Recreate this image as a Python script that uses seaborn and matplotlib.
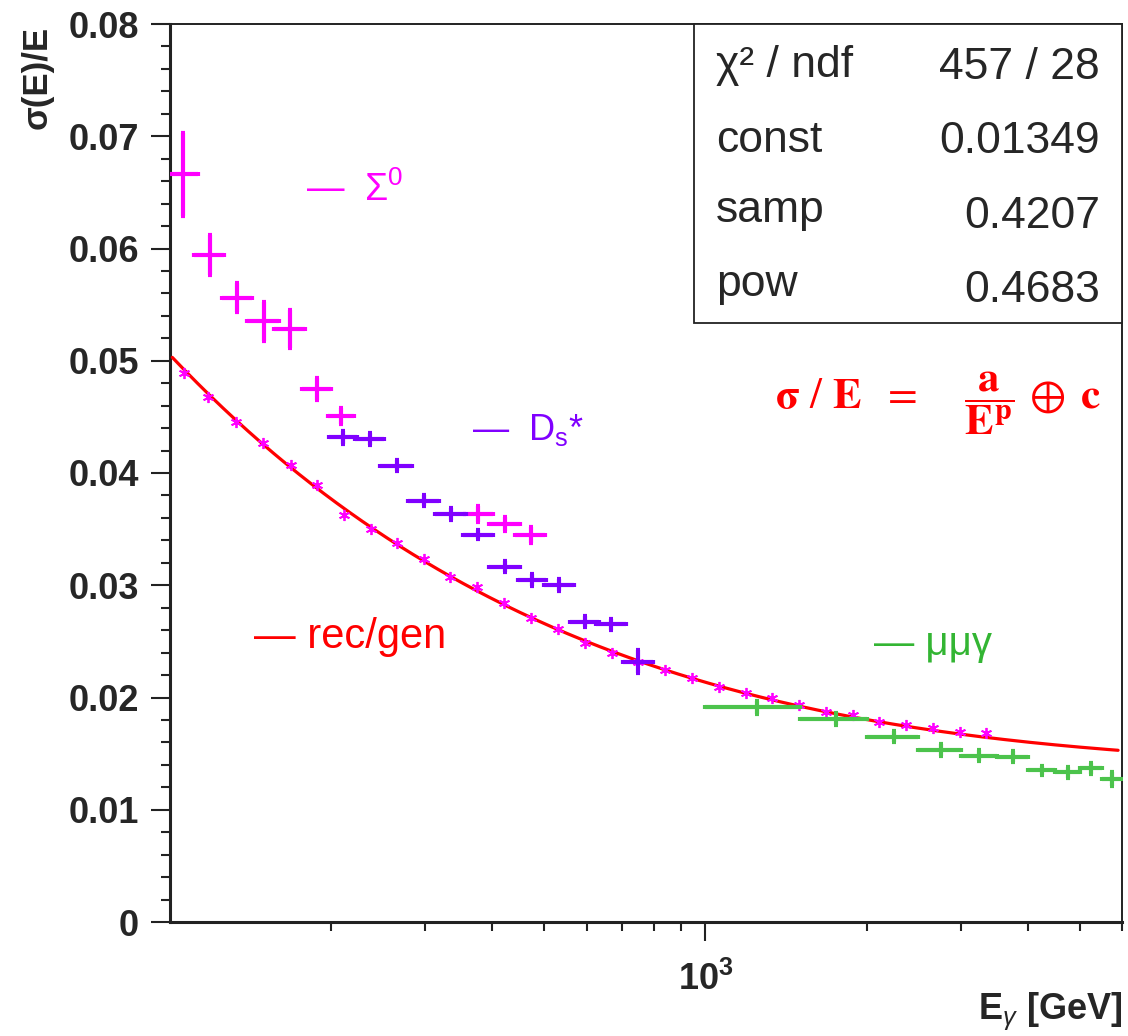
import numpy as np
import matplotlib
matplotlib.use('Agg')
import matplotlib.pyplot as plt
from matplotlib.ticker import FixedLocator, LogLocator, MultipleLocator, NullFormatter, FuncFormatter
from matplotlib.patches import Rectangle
import seaborn as sns

# rec/gen points (small stars along the fit)
recgen_e = [106, 118, 133, 149, 168, 188, 211, 237, 266, 298, 334, 375, 421, 473, 531,
            596, 668, 750, 841, 944, 1059, 1189, 1334, 1496, 1679, 1884, 2113, 2371, 2661,
            2985, 3350]
recgen_res = [0.04893, 0.04680, 0.04457, 0.04265, 0.04071, 0.03893, 0.03626, 0.03501,
              0.03374, 0.03231, 0.03076, 0.02987, 0.02839, 0.02711, 0.02610, 0.02483,
              0.02394, 0.02316, 0.02245, 0.02171, 0.02091, 0.02037, 0.01993, 0.01933,
              0.01870, 0.01844, 0.01784, 0.01755, 0.01726, 0.01695, 0.01681]

# Sigma0 sample
sigma0_e = [105.6, 118.6, 133.4, 149.5, 167.7, 188.1, 208.7, 376.5, 422.3, 471.6]
sigma0_eerr = [7, 7.6, 8.6, 10, 11, 12, 11.5, 24, 28, 31]
sigma0_res = [0.0666, 0.0594, 0.0556, 0.0535, 0.0528, 0.0475, 0.0451, 0.03635, 0.03546, 0.03448]
sigma0_err = [0.0037, 0.0018, 0.0013, 0.0017, 0.0017, 0.0010, 0.0007, 0.0007, 0.0006, 0.0007]

# Ds* sample
ds_e = [210.8, 236.4, 265.1, 298.5, 334.9, 376.5, 422.3, 474.8, 533.2, 595.6, 667.7, 748.7]
ds_eerr = [13, 15, 18, 20, 22, 24, 28, 29, 34, 36, 42, 48]
ds_res = [0.04318, 0.04303, 0.04065, 0.03753, 0.03635, 0.03448, 0.03165, 0.03047,
          0.03002, 0.02675, 0.02651, 0.02319]
ds_err = [0.0006, 0.0005, 0.0005, 0.0005, 0.0005, 0.0004, 0.0005, 0.0005, 0.0005,
          0.0005, 0.0005, 0.0010]

# mu mu gamma sample
mmg_e = [1250, 1750, 2250, 2750, 3250, 3750, 4250, 4750, 5250, 5750]
mmg_eerr = [250, 250, 250, 250, 250, 250, 250, 250, 250, 250]
mmg_res = [0.01913, 0.01808, 0.01651, 0.01532, 0.01482, 0.01473, 0.01354, 0.01333,
           0.01369, 0.01274]
mmg_err = [0.00056, 0.0005, 0.0005, 0.0005, 0.0005, 0.0005, 0.0004, 0.0005, 0.0005, 0.0006]

# fit result shown in the stats box
fit_chi2 = 457
fit_ndf = 28
fit_const = 0.01349
fit_samp = 0.4207
fit_pow = 0.4683

MAGENTA = '#ff00ff'
PURPLE = '#8000ff'
GREEN = '#4cc34c'
RED = '#ff0000'

sns.set_style('white')
plt.rcParams['font.family'] = ['Liberation Sans', 'DejaVu Sans']
plt.rcParams['mathtext.fontset'] = 'custom'
plt.rcParams['mathtext.rm'] = 'Liberation Sans'
plt.rcParams['mathtext.it'] = 'Liberation Sans:italic'
plt.rcParams['mathtext.bf'] = 'Liberation Sans:bold'

W, H = 1128, 1036
L, R, T, B = 170, 1122, 24, 922
fig = plt.figure(figsize=(W / 100, H / 100), dpi=100)
ax = fig.add_axes([L / W, (H - B) / H, (R - L) / W, (B - T) / H])


def fx(px):
    return (px - L) / (R - L)


def fy(py):
    return (B - py) / (B - T)


# fit curve sigma/E = a/E^p (+) c
e_grid = np.geomspace(101, 5900, 300)
fit_curve = np.hypot(fit_samp / e_grid ** fit_pow, fit_const)
sns.lineplot(x=e_grid, y=fit_curve, ax=ax, color=RED, lw=2.3, zorder=3)

ax.plot(recgen_e, recgen_res, ls='none', marker=(6, 2, 0), ms=8, mew=1.3,
        color=MAGENTA, zorder=4)

eb_kw = dict(fmt='none', elinewidth=3, capsize=1.6, capthick=3, zorder=5)
ax.errorbar(sigma0_e, sigma0_res, xerr=sigma0_eerr, yerr=sigma0_err, ecolor=MAGENTA, **eb_kw)
ax.errorbar(ds_e, ds_res, xerr=ds_eerr, yerr=ds_err, ecolor=PURPLE, **eb_kw)
ax.errorbar(mmg_e, mmg_res, xerr=mmg_eerr, yerr=mmg_err, ecolor=GREEN, **eb_kw)

ax.set_xscale('log')
ax.set_xlim(100, 6000)
ax.set_ylim(0, 0.08)

ax.xaxis.set_major_locator(FixedLocator([1000]))
ax.xaxis.set_major_formatter(FuncFormatter(lambda v, p: r'$\mathbf{10^{%d}}$' % round(np.log10(v))))
ax.xaxis.set_minor_locator(LogLocator(base=10, subs=np.arange(2, 10), numticks=20))
ax.xaxis.set_minor_formatter(NullFormatter())
ax.yaxis.set_major_locator(MultipleLocator(0.01))
ax.yaxis.set_minor_locator(MultipleLocator(0.002))
ax.yaxis.set_major_formatter(FuncFormatter(lambda v, p: '0' if abs(v) < 1e-9 else f'{v:.2f}'))

ax.tick_params(axis='both', which='major', direction='out', length=13.5, width=1.5,
               labelsize=26, color='#222222', bottom=True, left=True)
ax.tick_params(axis='both', which='minor', direction='out', length=6.5, width=1.5,
               color='#222222', bottom=True, left=True)
ax.tick_params(axis='y', which='major', pad=9)
ax.tick_params(axis='x', which='major', pad=15)
for lab in ax.get_yticklabels() + ax.get_xticklabels():
    lab.set_fontweight('bold')

for side, lw in [('left', 2.2), ('bottom', 2.2), ('top', 1.4), ('right', 1.4)]:
    ax.spines[side].set_linewidth(lw)
    ax.spines[side].set_color('#222222')

ax.set_ylabel('σ(E)/E', fontsize=25, fontweight='bold', ha='right', va='center')
ax.yaxis.set_label_coords(fx(37), fy(26))
ax.set_xlabel(r'$\mathbf{E}_{\gamma}$ [GeV]', fontsize=26, fontweight='bold', ha='right', va='bottom')
ax.xaxis.set_label_coords(1.0, fy(1033))

# stats box
ax.add_patch(Rectangle((fx(693.5), fy(323)), 1 - fx(693.5), fy(24) - fy(323),
                       transform=ax.transAxes, facecolor='white', edgecolor='#222222',
                       lw=1.3, zorder=6, clip_on=False))
stat_names = ['χ² / ndf', 'const', 'samp', 'pow']
stat_vals = [f'{fit_chi2} / {fit_ndf}', f'{fit_const:.5f}', f'{fit_samp:.4f}', f'{fit_pow:.4f}']
name_base = [77, 152, 222, 296]
val_base = [79, 153, 228, 302]
for name, val, yb1, yb2 in zip(stat_names, stat_vals, name_base, val_base):
    ax.text(fx(716), fy(yb1), name, transform=ax.transAxes, fontsize=32,
            ha='left', va='baseline', zorder=7)
    ax.text(fx(1100), fy(yb2), val, transform=ax.transAxes, fontsize=32,
            ha='right', va='baseline', zorder=7)

# sample labels
ax.text(fx(306), fy(201), r'—  Σ$^{0}$', transform=ax.transAxes, fontsize=27, color=MAGENTA, va='baseline')
ax.text(fx(472), fy(440), r'—  D$_{\mathrm{s}}$*', transform=ax.transAxes, fontsize=26, color=PURPLE, va='baseline')
ax.text(fx(254), fy(648), '— rec/gen', transform=ax.transAxes, fontsize=30, color=RED, va='baseline')
ax.text(fx(874), fy(655), '— μμγ', transform=ax.transAxes, fontsize=29, color='#33b533', va='baseline')

# resolution formula
ax.text(fx(775), fy(403),
        r'$\mathbf{\sigma}\ /\ \mathbf{E}\ \ =\ \ \ \ \dfrac{\mathbf{a}}{\mathbf{E}^{\mathbf{p}}}\,\oplus\;\mathbf{c}$',
        transform=ax.transAxes, fontsize=31, color=RED, ha='left', va='center',
        math_fontfamily='stix')

fig.savefig('out.png', dpi=100)
